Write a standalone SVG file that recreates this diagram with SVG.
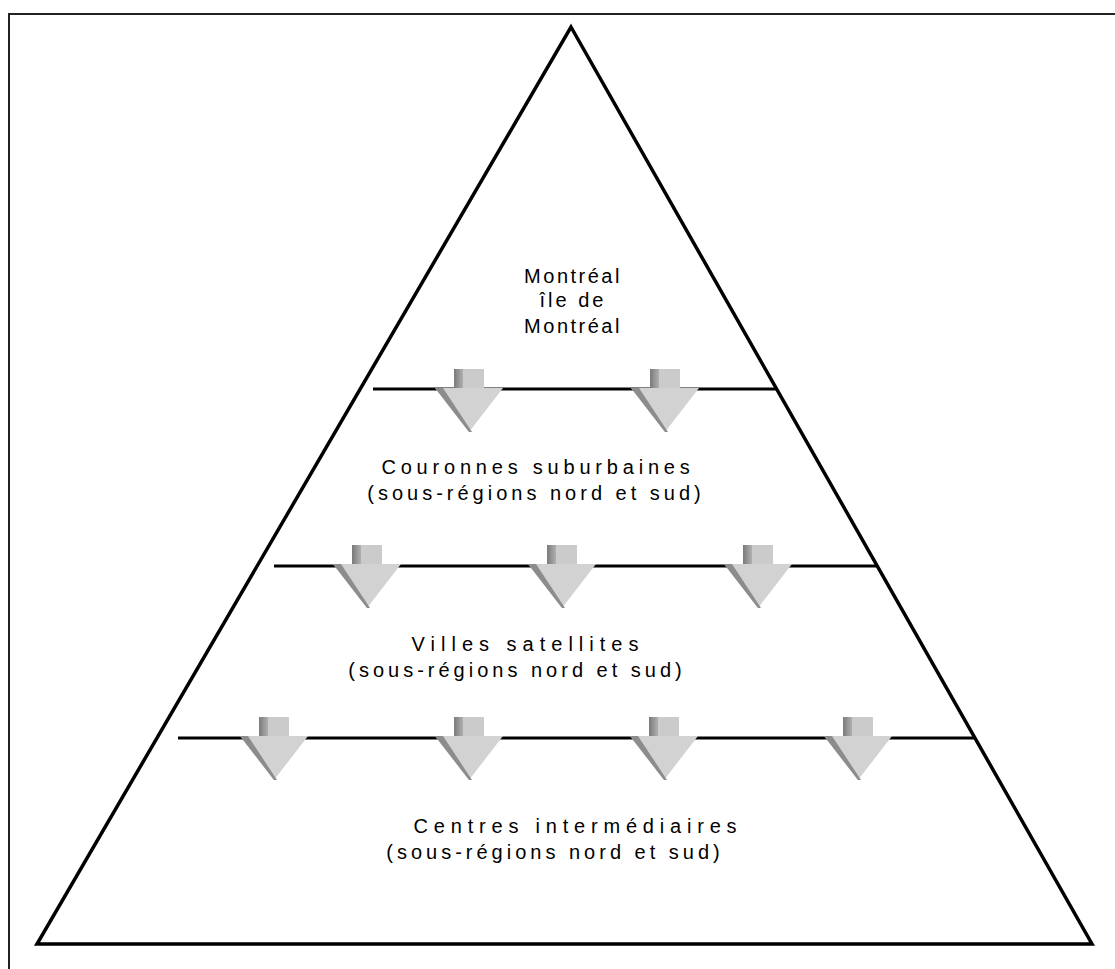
<svg xmlns="http://www.w3.org/2000/svg" width="1115" height="969" viewBox="0 0 1115 969">
<style>
.lbl{font-family:"Liberation Sans",Arial,sans-serif;font-size:20px;fill:#000;text-anchor:middle}
.edge{stroke:#000;stroke-width:3.5;fill:none;stroke-linejoin:miter}
.sep{stroke:#000;stroke-width:3;fill:none}
.frame{stroke:#222;stroke-width:2;fill:none}
.ahead{fill:#d2d2d2}
.ashaft{fill:#cbcbcb}
.ashade{fill:#8c8c8c}
</style>
<defs>
<linearGradient id="sh" x1="0" y1="0" x2="1" y2="0">
<stop offset="0" stop-color="#7a7a7a"/>
<stop offset="1" stop-color="#b0b0b0"/>
</linearGradient>
<g id="arrow">
<rect class="ashaft" x="-15" y="-20" width="30" height="20"/>
<rect fill="url(#sh)" x="-15" y="-20" width="9" height="20"/>
<polygon class="ahead" points="-34,-1 34,-1 0,43"/>
<polygon class="ashade" points="-34,-1 -26,-1 3,43 0,43"/>
</g>
</defs>
<rect width="1115" height="969" fill="#fff"/>
<path class="frame" d="M9,969 V14 H1115"/>
<g id="pyramid">
<polygon class="edge" points="571,27 1092,944 37,944"/>
</g>
<g id="tier-lines">
<line class="sep" x1="373" y1="389" x2="776" y2="389"/>
<line class="sep" x1="274" y1="566" x2="877" y2="566"/>
<line class="sep" x1="178" y1="738" x2="974" y2="738"/>
</g>
<g id="tier1">
<text class="lbl" x="573" y="283" letter-spacing="2.5">Montréal</text>
<text class="lbl" x="573" y="307" letter-spacing="3">île de</text>
<text class="lbl" x="573" y="333" letter-spacing="2.5">Montréal</text>
</g>
<g id="tier2">
<text class="lbl" x="538" y="474" letter-spacing="4.8">Couronnes suburbaines</text>
<text class="lbl" x="536" y="500" letter-spacing="4">(sous-régions nord et sud)</text>
</g>
<g id="tier3">
<text class="lbl" x="528" y="651" letter-spacing="6">Villes satellites</text>
<text class="lbl" x="517" y="677" letter-spacing="4">(sous-régions nord et sud)</text>
</g>
<g id="tier4">
<text class="lbl" x="578" y="833" letter-spacing="5.8">Centres intermédiaires</text>
<text class="lbl" x="555" y="859" letter-spacing="4">(sous-régions nord et sud)</text>
</g>
<g id="connectors">
<use href="#arrow" x="469" y="389"/>
<use href="#arrow" x="665" y="389"/>
<use href="#arrow" x="367" y="565"/>
<use href="#arrow" x="562" y="565"/>
<use href="#arrow" x="758" y="565"/>
<use href="#arrow" x="274" y="737"/>
<use href="#arrow" x="469" y="737"/>
<use href="#arrow" x="664" y="737"/>
<use href="#arrow" x="858" y="737"/>
</g>
</svg>
